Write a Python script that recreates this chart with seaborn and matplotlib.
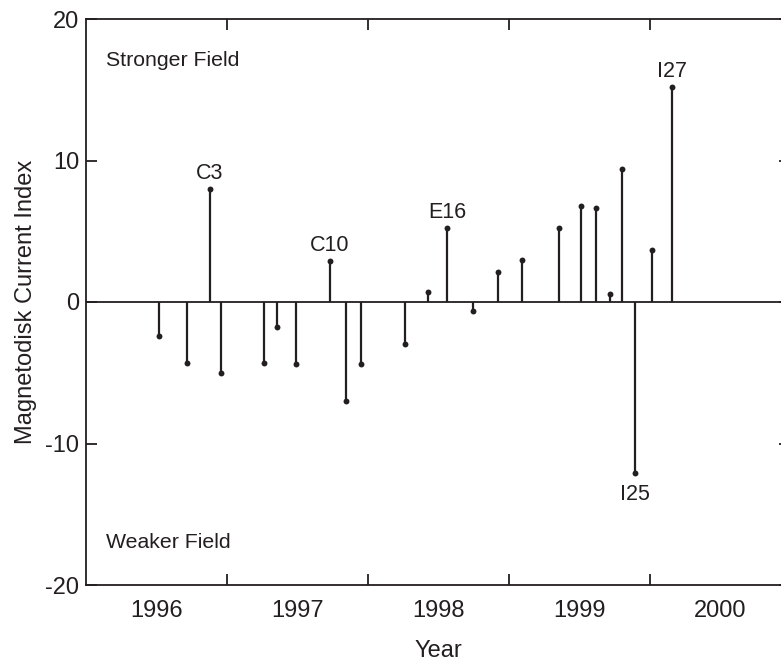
import matplotlib
matplotlib.use("Agg")
import matplotlib.pyplot as plt
import seaborn as sns
import numpy as np
import pandas as pd

# Data
years = [1996.515, 1996.714, 1996.877, 1996.955, 1997.263, 1997.358, 1997.490,
         1997.731, 1997.847, 1997.949, 1998.266, 1998.427, 1998.564, 1998.749,
         1998.923, 1999.092, 1999.354, 1999.515, 1999.617, 1999.716, 1999.802,
         1999.894, 2000.014, 2000.161]
index_values = [-2.4, -4.3, 8.0, -5.0, -4.3, -1.8, -4.4,
                2.9, -7.0, -4.4, -2.95, 0.7, 5.25, -0.65,
                2.15, 3.0, 5.25, 6.75, 6.65, 0.55, 9.4,
                -12.1, 3.65, 15.2]
labels = ["", "", "C3", "", "", "", "",
          "C10", "", "", "", "", "E16", "",
          "", "", "", "", "", "", "",
          "I25", "", "I27"]
year_ticks = [1997, 1998, 1999, 2000]
year_label_pos = [1996.5, 1997.5, 1998.5, 1999.5, 2000.5]
year_labels = ["1996", "1997", "1998", "1999", "2000"]
y_ticks = [-20, -10, 0, 10, 20]

df = pd.DataFrame({"year": years, "value": index_values, "label": labels})

sns.set_style("ticks")
plt.rcParams["font.family"] = ["Liberation Sans", "DejaVu Sans"]
ink = "#231f20"

fig = plt.figure(figsize=(7.81, 6.62), dpi=100)
ax = fig.add_axes([86 / 781, 77 / 662, 704.5 / 781, 566 / 662])

ax.axhline(0, color=ink, lw=1.3, zorder=1)
ax.vlines(df["year"], 0, df["value"], color=ink, lw=1.6, zorder=2)
sns.scatterplot(data=df, x="year", y="value", ax=ax, color=ink, s=18,
                edgecolor=ink, linewidth=0, zorder=3, legend=False)

for _, r in df.iterrows():
    if r["label"]:
        if r["value"] > 0:
            ax.annotate(r["label"], (r["year"], r["value"]), xytext=(0, 3.5),
                        textcoords="offset points", ha="center", va="bottom",
                        fontsize=15.5, color=ink)
        else:
            ax.annotate(r["label"], (r["year"], r["value"]), xytext=(0, -7.5),
                        textcoords="offset points", ha="center", va="top",
                        fontsize=15.5, color=ink)

ax.set_xlim(1996, 2001)
ax.set_ylim(-20, 20)
ax.set_xticks(year_ticks)
ax.set_xticklabels([])
ax.set_xticks(year_label_pos, minor=True)
ax.set_xticklabels(year_labels, minor=True)
ax.set_yticks(y_ticks)
ax.set_yticklabels([str(v) for v in y_ticks])
ax.tick_params(axis="both", which="major", direction="in", length=8, width=1.3,
               colors=ink, top=True, right=True, labelsize=17, labelcolor=ink)
ax.tick_params(axis="x", which="minor", length=0, labelsize=17, labelcolor=ink, pad=10.5)
ax.tick_params(axis="y", which="major", pad=5)
for s in ax.spines.values():
    s.set_linewidth(1.3)
    s.set_color(ink)

ax.set_xlabel("Year", fontsize=17, color=ink, labelpad=13)
ax.set_ylabel("Magnetodisk Current Index", fontsize=17, color=ink, labelpad=6)

ax.text(1996.14, 16.7, "Stronger Field", fontsize=15.3, color=ink, va="baseline", ha="left")
ax.text(1996.14, -17.4, "Weaker Field", fontsize=15.3, color=ink, va="baseline", ha="left")

fig.savefig("out.png", dpi=100)
